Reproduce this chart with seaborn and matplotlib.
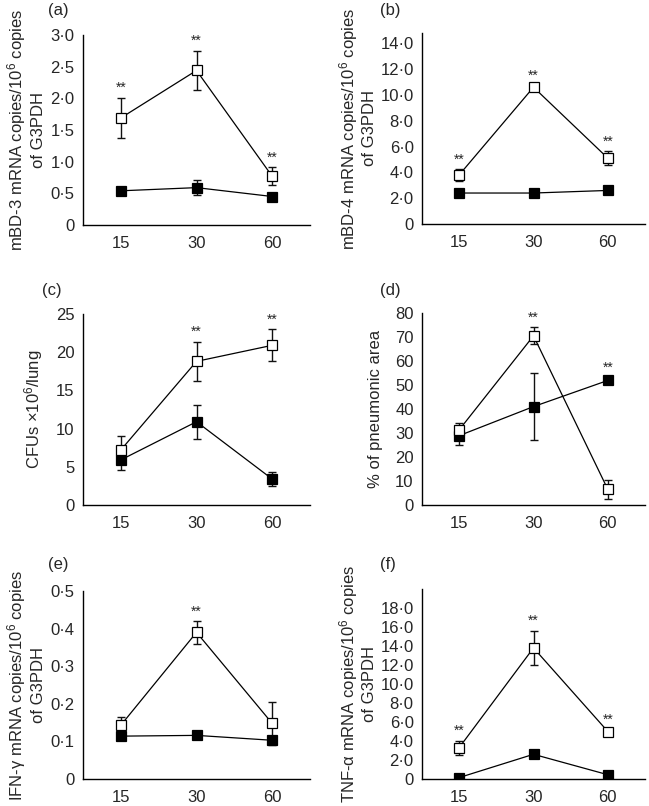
import numpy as np
import seaborn as sns
import matplotlib.pyplot as plt
from matplotlib.ticker import FuncFormatter

# time points (x axis)
times = ["15", "30", "60"]

# (a) mBD-3
a_open = [1.69, 2.44, 0.77]
a_open_err = [0.32, 0.31, 0.14]
a_filled = [0.54, 0.59, 0.45]
a_filled_err = [0.03, 0.12, 0.03]
a_stars = ["open", "open", "open"]
a_yticks = [0, 0.5, 1.0, 1.5, 2.0, 2.5, 3.0]

# (b) mBD-4
b_open = [3.8, 10.6, 5.1]
b_open_err = [0.45, 0.15, 0.55]
b_filled = [2.4, 2.4, 2.6]
b_filled_err = [0.1, 0.1, 0.1]
b_stars = ["open", "open", "open"]
b_yticks = [0, 2, 4, 6, 8, 10, 12, 14]

# (c) CFUs
c_open = [7.2, 18.8, 20.9]
c_open_err = [1.8, 2.6, 2.1]
c_filled = [5.9, 10.9, 3.4]
c_filled_err = [1.35, 2.2, 0.95]
c_stars = [None, "open", "open"]
c_yticks = [0, 5, 10, 15, 20, 25]

# (d) pneumonic area
d_open = [31.3, 70.5, 6.5]
d_open_err = [2.8, 3.6, 3.9]
d_filled = [28.9, 41.0, 51.9]
d_filled_err = [3.9, 14.0, 1.0]
d_stars = [None, "open", "filled"]
d_yticks = [0, 10, 20, 30, 40, 50, 60, 70, 80]

# (e) IFN-gamma
e_open = [0.143, 0.39, 0.148]
e_open_err = [0.022, 0.03, 0.057]
e_filled = [0.114, 0.116, 0.103]
e_filled_err = [0.005, 0.005, 0.005]
e_stars = [None, "open", None]
e_yticks = [0, 0.1, 0.2, 0.3, 0.4, 0.5]

# (f) TNF-alpha
f_open = [3.3, 13.8, 5.0]
f_open_err = [0.75, 1.8, 0.2]
f_filled = [0.15, 2.6, 0.45]
f_filled_err = [0.1, 0.15, 0.1]
f_stars = ["open", "open", "open"]
f_yticks = [0, 2, 4, 6, 8, 10, 12, 14, 16, 18]

sns.set_style("white")
plt.rcParams["font.family"] = ["Liberation Sans", "DejaVu Sans"]
plt.rcParams["mathtext.fontset"] = "custom"
plt.rcParams["mathtext.rm"] = "Liberation Sans"
plt.rcParams["mathtext.it"] = "Liberation Sans:italic"

W, H = 649, 806
fig = plt.figure(figsize=(W / 100, H / 100), dpi=100)


def px_axes(left, right, top, bottom):
    return fig.add_axes([left / W, 1 - bottom / H, (right - left) / W, (bottom - top) / H])


def fmt(decimals):
    def f(v, pos):
        if v == 0:
            return "0"
        return f"{v:.{decimals}f}".replace(".", "\u00b7")
    return FuncFormatter(f)


def panel(ax, opn, opn_err, fil, fil_err, stars, yticks, ylim, decimals, ylabel, label_x):
    x = np.arange(len(times))
    # error bars first so the squares sit on top
    ax.errorbar(x, opn, yerr=opn_err, fmt="none", ecolor="#111111",
                elinewidth=1.0, capsize=3, capthick=1.0, zorder=2)
    ax.errorbar(x, fil, yerr=fil_err, fmt="none", ecolor="#111111",
                elinewidth=1.0, capsize=3, capthick=1.0, zorder=2)
    sns.pointplot(x=times, y=fil, order=times, color="black", markers="s",
                  linestyles="-", errorbar=None, markersize=6.5, markeredgewidth=0.9,
                  markerfacecolor="black", linewidth=0.9, ax=ax, zorder=3)
    sns.pointplot(x=times, y=opn, order=times, color="black", markers="s",
                  linestyles="-", errorbar=None, markersize=6.5, markeredgewidth=0.9,
                  markerfacecolor="white", linewidth=0.9, ax=ax, zorder=4)
    for i, s in enumerate(stars):
        if s is None:
            continue
        top = opn[i] + opn_err[i] if s == "open" else fil[i] + fil_err[i]
        ax.annotate("**", xy=(i, top), xytext=(0, 2), textcoords="offset points",
                    ha="center", va="bottom", fontsize=10)
    ax.set_xlim(-0.5, 2.5)
    ax.set_ylim(*ylim)
    ax.set_yticks(yticks)
    ax.yaxis.set_major_formatter(fmt(decimals))
    ax.set_xlabel("")
    ax.set_ylabel(ylabel, fontsize=12)
    ax.yaxis.set_label_coords(label_x, 0.5)
    ax.tick_params(length=0, labelsize=12)
    ax.tick_params(axis="y", pad=6)
    ax.tick_params(axis="x", pad=8)
    for side in ["top", "right"]:
        ax.spines[side].set_visible(False)
    for side in ["left", "bottom"]:
        ax.spines[side].set_color("black")
        ax.spines[side].set_linewidth(1.0)


ax_a = px_axes(83, 310, 35, 225)
ax_b = px_axes(422, 645, 33, 224)
ax_c = px_axes(83, 310, 314, 505)
ax_d = px_axes(422, 645, 313, 505)
ax_e = px_axes(83, 310, 591, 779)
ax_f = px_axes(422, 645, 589, 779)

panel(ax_a, a_open, a_open_err, a_filled, a_filled_err, a_stars, a_yticks, (0, 3.0), 1,
      "mBD-3 mRNA copies/10$^6$ copies\nof G3PDH", -0.165)
panel(ax_b, b_open, b_open_err, b_filled, b_filled_err, b_stars, b_yticks, (0, 14.8), 1,
      "mBD-4 mRNA copies/10$^6$ copies\nof G3PDH", -0.2)
panel(ax_c, c_open, c_open_err, c_filled, c_filled_err, c_stars, c_yticks, (0, 25), 0,
      "CFUs \u00d710$^6$/lung", -0.167)
panel(ax_d, d_open, d_open_err, d_filled, d_filled_err, d_stars, d_yticks, (0, 80), 0,
      "% of pneumonic area", -0.175)
panel(ax_e, e_open, e_open_err, e_filled, e_filled_err, e_stars, e_yticks, (0, 0.5), 1,
      "IFN-\u03b3 mRNA copies/10$^6$ copies\nof G3PDH", -0.165)
panel(ax_f, f_open, f_open_err, f_filled, f_filled_err, f_stars, f_yticks, (0, 20), 1,
      "TNF-\u03b1 mRNA copies/10$^6$ copies\nof G3PDH", -0.2)

# panel letters
for txt, xp, yp in [("(a)", 48, 10), ("(b)", 380, 10), ("(c)", 42, 290),
                    ("(d)", 380, 290), ("(e)", 48, 565), ("(f)", 380, 565)]:
    fig.text(xp / W, 1 - yp / H, txt, fontsize=12, ha="left", va="center")

fig.savefig("out.png", dpi=100)
